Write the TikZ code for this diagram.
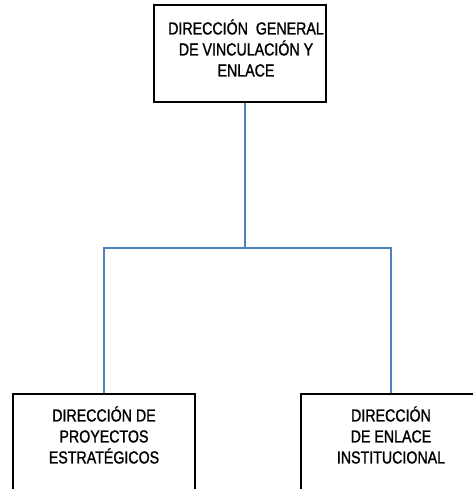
\documentclass[tikz,border=0pt]{standalone}
\usepackage{fontspec}
\setmainfont{Liberation Sans}[FakeStretch=0.82,FakeBold=1.2]
\definecolor{linkblue}{RGB}{79,129,189}

\begin{document}
\begin{tikzpicture}[x=0.75pt,y=0.75pt,yscale=-1,xscale=1,
  box/.style={draw=black,line width=1.4pt,rectangle,inner sep=0pt},
  conn/.style={draw=linkblue,line width=1.5pt},
  lbl/.style={align=center,inner sep=0pt,font=\fontsize{13}{15.75}\selectfont}]

\useasboundingbox (0,0) rectangle (473,489);
\clip (0,0) rectangle (473,489);

% boxes
\node [box,minimum width=129pt,minimum height=72.75pt] (dg) at (240,53.5) {};
\node [box,minimum width=136.5pt,minimum height=79.5pt] (dpe) at (104,447) {};
\node [box,minimum width=135pt,minimum height=79.5pt] (dei) at (391,447) {};

% texts
\node [lbl] (dgtxt) at (246,48) {DIRECCIÓN\ \ GENERAL\\DE VINCULACIÓN Y\\ENLACE};
\node [lbl] (dpetxt) at (104,435) {DIRECCIÓN DE\\PROYECTOS\\ESTRATÉGICOS};
\node [lbl] (deitxt) at (391,435) {DIRECCIÓN\\DE ENLACE\\INSTITUCIONAL};

% connectors
\coordinate (jn) at (245,248);
\draw [conn] (dg.south -| jn) -- (jn);
\draw [conn] (dpe.north) |- (jn) -| (dei.north);

\end{tikzpicture}
\end{document}
